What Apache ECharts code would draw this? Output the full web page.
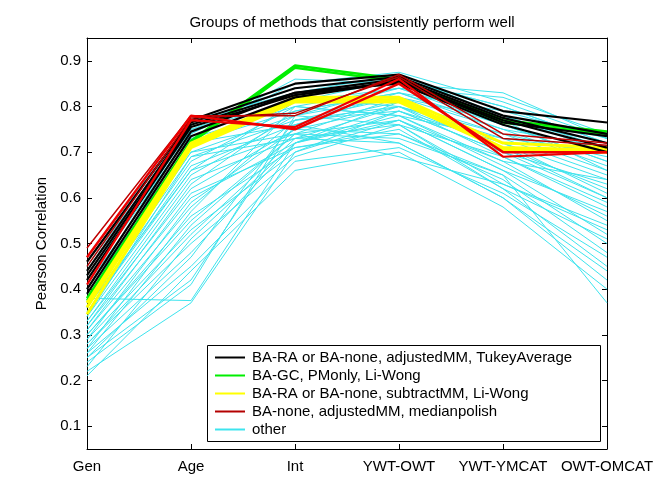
<!DOCTYPE html>
<html><head><meta charset="utf-8">
<script src="https://cdn.jsdelivr.net/npm/echarts@6/dist/echarts.min.js"></script>
<style>html,body{margin:0;padding:0;background:#fff}#c{width:672px;height:504px}</style>
</head><body><div id="c"></div>
<script>
const categories = ['Gen', 'Age', 'Int', 'YWT-OWT', 'YWT-YMCAT', 'OWT-OMCAT'];
const yTicks = [0.1, 0.2, 0.3, 0.4, 0.5, 0.6, 0.7, 0.8, 0.9];
const groupNames = [
  'BA-RA or BA-none, adjustedMM, TukeyAverage',
  'BA-GC, PMonly, Li-Wong',
  'BA-RA or BA-none, subtractMM, Li-Wong',
  'BA-none, adjustedMM, medianpolish',
  'other'
];
const blackLines = [
  [0.46, 0.770, 0.850, 0.870, 0.790, 0.765],
  [0.44, 0.765, 0.840, 0.865, 0.780, 0.740],
  [0.43, 0.760, 0.830, 0.860, 0.775, 0.720],
  [0.42, 0.755, 0.825, 0.855, 0.770, 0.710],
  [0.40, 0.745, 0.830, 0.850, 0.760, 0.700],
  [0.39, 0.735, 0.820, 0.855, 0.765, 0.735]
];
const greenLines = [
  [0.380, 0.725, 0.890, 0.860, 0.770, 0.745],
  [0.375, 0.720, 0.885, 0.855, 0.765, 0.740]
];
const yellowLines = [
  [0.370, 0.720, 0.820, 0.820, 0.720, 0.710],
  [0.360, 0.715, 0.815, 0.815, 0.710, 0.705],
  [0.345, 0.710, 0.810, 0.810, 0.705, 0.700]
];
const redLines = [
  [0.450, 0.775, 0.785, 0.865, 0.730, 0.715],
  [0.490, 0.780, 0.780, 0.870, 0.740, 0.720],
  [0.470, 0.780, 0.750, 0.850, 0.700, 0.700],
  [0.410, 0.770, 0.755, 0.860, 0.690, 0.700]
];
const otherLines = [
  [0.45, 0.76, 0.84, 0.86, 0.80, 0.72],
  [0.44, 0.75, 0.83, 0.87, 0.78, 0.70],
  [0.42, 0.74, 0.86, 0.85, 0.83, 0.73],
  [0.41, 0.73, 0.80, 0.84, 0.82, 0.74],
  [0.40, 0.72, 0.79, 0.83, 0.76, 0.68],
  [0.39, 0.71, 0.82, 0.80, 0.74, 0.66],
  [0.38, 0.70, 0.78, 0.82, 0.72, 0.64],
  [0.37, 0.69, 0.77, 0.79, 0.70, 0.60],
  [0.36, 0.68, 0.80, 0.78, 0.68, 0.55],
  [0.35, 0.67, 0.76, 0.81, 0.71, 0.62],
  [0.35, 0.66, 0.74, 0.77, 0.66, 0.52],
  [0.34, 0.65, 0.78, 0.76, 0.69, 0.58],
  [0.33, 0.64, 0.73, 0.80, 0.73, 0.70],
  [0.33, 0.62, 0.75, 0.74, 0.64, 0.48],
  [0.32, 0.60, 0.72, 0.78, 0.67, 0.56],
  [0.31, 0.58, 0.77, 0.82, 0.75, 0.71],
  [0.30, 0.56, 0.71, 0.75, 0.62, 0.45],
  [0.30, 0.55, 0.74, 0.73, 0.65, 0.50],
  [0.29, 0.53, 0.70, 0.79, 0.70, 0.63],
  [0.28, 0.52, 0.73, 0.72, 0.60, 0.42],
  [0.28, 0.50, 0.69, 0.76, 0.63, 0.54],
  [0.27, 0.48, 0.72, 0.81, 0.74, 0.69],
  [0.26, 0.45, 0.68, 0.71, 0.61, 0.47],
  [0.25, 0.42, 0.76, 0.83, 0.79, 0.73],
  [0.24, 0.41, 0.78, 0.84, 0.77, 0.72],
  [0.22, 0.37, 0.70, 0.77, 0.66, 0.57],
  [0.21, 0.44, 0.66, 0.70, 0.58, 0.40],
  [0.38, 0.375, 0.72, 0.79, 0.72, 0.61],
  [0.43, 0.74, 0.85, 0.875, 0.81, 0.73],
  [0.47, 0.77, 0.83, 0.85, 0.78, 0.71],
  [0.36, 0.66, 0.81, 0.86, 0.80, 0.72],
  [0.32, 0.63, 0.79, 0.83, 0.75, 0.67],
  [0.29, 0.59, 0.75, 0.80, 0.69, 0.59],
  [0.27, 0.57, 0.80, 0.78, 0.73, 0.65],
  [0.31, 0.61, 0.71, 0.74, 0.65, 0.37],
  [0.34, 0.69, 0.73, 0.76, 0.62, 0.51],
  [0.26, 0.54, 0.74, 0.82, 0.77, 0.66],
  [0.39, 0.72, 0.76, 0.72, 0.60, 0.44],
  [0.25, 0.47, 0.77, 0.80, 0.71, 0.60],
  [0.37, 0.70, 0.74, 0.69, 0.63, 0.53],
  [0.23, 0.51, 0.72, 0.77, 0.68, 0.64],
  [0.42, 0.75, 0.81, 0.84, 0.76, 0.68]
];

const FONT = 'Liberation Sans, Arial, sans-serif';
const series = [];
function add(name, lines, colors, widths, z) {
  lines.forEach((d, i) => {
    const c = Array.isArray(colors) ? colors[i % colors.length] : colors;
    const w = Array.isArray(widths) ? widths[i % widths.length] : widths;
    series.push({
      type: 'line', name: name, data: d, symbol: 'none', z: z,
      color: c, lineStyle: { color: c, width: w }, silent: true, animation: false
    });
  });
}
add(groupNames[4], otherLines, '#3ee4ee', 1, 2);
add(groupNames[1], greenLines, '#00ee00', 2.5, 3);
add(groupNames[2], yellowLines, '#ffff00', 3, 4);
add(groupNames[0], blackLines, '#000000', 2.2, 5);
add(groupNames[3], redLines, ['#b40000', '#c00000', '#ee0000', '#ee0000'], [1.5, 1.5, 2.5, 2.2], 6);

const tickOpts = { show: true, inside: true, length: 5, lineStyle: { color: '#000' } };
const option = {
  backgroundColor: '#fff',
  animation: false,
  title: {
    text: 'Groups of methods that consistently perform well',
    left: 347, top: 10, textAlign: 'center',
    textStyle: { fontFamily: FONT, fontSize: 15, fontWeight: 'normal', color: '#000' }
  },
  grid: { left: 87, right: 65, top: 38, bottom: 55, containLabel: false },
  xAxis: [
    {
      type: 'category', data: categories, boundaryGap: false, position: 'bottom',
      axisLine: { lineStyle: { color: '#000', width: 1 } },
      axisTick: Object.assign({ alignWithLabel: true, interval: 0 }, tickOpts),
      axisLabel: { interval: 0, margin: 10, fontFamily: FONT, fontSize: 15, color: '#000' },
      splitLine: { show: false }
    },
    {
      type: 'category', data: categories, boundaryGap: false, position: 'top',
      axisLine: { lineStyle: { color: '#000', width: 1 } },
      axisTick: Object.assign({ interval: 0 }, tickOpts),
      axisLabel: { show: false }, splitLine: { show: false }
    }
  ],
  yAxis: [
    {
      type: 'value', min: 0.05, max: 0.95, position: 'left',
      name: 'Pearson Correlation', nameLocation: 'middle', nameGap: 38, nameRotate: 90,
      nameTextStyle: { fontFamily: FONT, fontSize: 15, color: '#000' },
      axisLine: { show: true, lineStyle: { color: '#000', width: 1 } },
      axisTick: Object.assign({ customValues: yTicks }, tickOpts),
      axisLabel: { customValues: yTicks, margin: 6, fontFamily: FONT, fontSize: 15, color: '#000',
        formatter: v => v.toFixed(1) },
      splitLine: { show: false }
    },
    {
      type: 'value', min: 0.05, max: 0.95, position: 'right',
      axisLine: { show: true, lineStyle: { color: '#000', width: 1 } },
      axisTick: Object.assign({ customValues: yTicks }, tickOpts),
      axisLabel: { show: false }, splitLine: { show: false }
    }
  ],
  legend: {
    data: [groupNames[0], groupNames[1], groupNames[2], groupNames[3], groupNames[4]],
    orient: 'vertical', left: 215, top: 350, padding: 0,
    icon: 'rect', itemWidth: 30, itemHeight: 2, itemGap: 3,
    textStyle: { fontFamily: FONT, fontSize: 15, color: '#000', padding: [0, 0, 0, 2] },
    selectedMode: false, z: 200
  },
  graphic: {
    elements: [{
      type: 'rect', z: 100, silent: true,
      shape: { x: 207.5, y: 345.5, width: 393, height: 96 },
      style: { fill: '#fff', stroke: '#000', lineWidth: 1 }
    }]
  },
  series: series
};
const chart = echarts.init(document.getElementById('c'), null, { renderer: 'canvas' });
chart.setOption(option);
</script>
</body></html>
